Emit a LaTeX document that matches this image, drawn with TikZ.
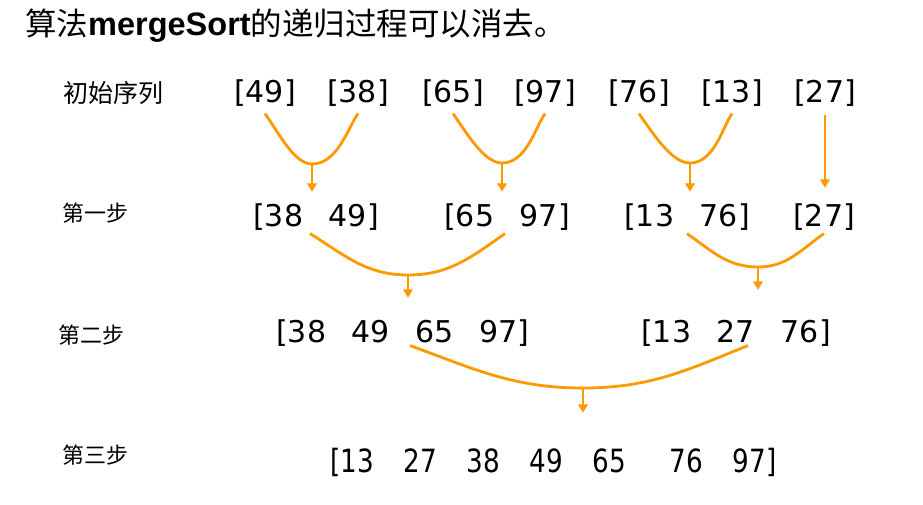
\documentclass[tikz,border=0pt]{standalone}
\usepackage{fontspec}
\usepackage{graphicx}
\setmainfont{DejaVu Sans}
\newfontfamily\cjk{Noto Sans CJK SC}
\newfontfamily\latinsans{Liberation Sans}
\usetikzlibrary{arrows.meta}

\definecolor{mergeorange}{RGB}{255,153,0}
\newcommand{\numgap}{\hspace{0.86em}}

\tikzset{
  seq/.style={inner sep=0pt,font=\fontsize{30}{30}\selectfont},
  steplabel/.style={inner sep=0pt,font=\cjk\fontsize{22}{22}\selectfont},
  merge/.style={draw=mergeorange,line width=2.8pt},
  vmerge/.style={out looseness=0.95,in looseness=0.65},
  flow/.style={draw=mergeorange,line width=2.5pt,
               -{Triangle[width=9.5pt,length=8.5pt]}}
}

\begin{document}
\begin{tikzpicture}[x=1pt,y=1pt]
  \useasboundingbox (0,0) rectangle (923,504);

  \node[anchor=west,inner sep=0pt,font=\cjk\fontsize{31.5}{31.5}\selectfont]
    (title) at (25,478)
    {算法{\latinsans\bfseries\fontsize{32.5}{32.5}\selectfont mergeSort}的递归过程可以消去。};

  % row labels
  \node[steplabel,font=\cjk\fontsize{25}{25}\selectfont] (init) at (113.5,411) {初始序列};
  \node[steplabel] (step1) at (95,291) {第一步};
  \node[steplabel] (step2) at (91,169) {第二步};
  \node[steplabel] (step3) at (95,49)  {第三步};

  % initial sequence
  \node[seq] (n11) at (265,411) {[49]};
  \node[seq] (n12) at (358,411) {[38]};
  \node[seq] (n13) at (453,411) {[65]};
  \node[seq] (n14) at (545,411) {[97]};
  \node[seq] (n15) at (639,411) {[76]};
  \node[seq] (n16) at (732,411) {[13]};
  \node[seq] (n17) at (825,411) {[27]};

  % first step
  \node[seq] (n21) at (316,287) {[38\numgap 49]};
  \node[seq] (n22) at (507,287) {[65\numgap 97]};
  \node[seq] (n23) at (687,287) {[13\numgap 76]};
  \node[seq] (n24) at (824,287) {[27]};

  % second step
  \node[seq] (n31) at (403,171) {[38\numgap 49\numgap 65\numgap 97]};
  \node[seq] (n32) at (736,171) {[13\numgap 27\numgap 76]};

  % third step
  \node[seq,font=\fontsize{32}{32}\selectfont] (n41) at (553.5,42)
    {\scalebox{0.82}[1]{[13\hspace{1.13em}27\hspace{1.13em}38\hspace{1.13em}49\hspace{1.13em}65\hspace{1.66em}76\hspace{1.13em}97]}};

  % merge points
  \coordinate (j11) at (312,340);
  \coordinate (j12) at (502,341);
  \coordinate (j13) at (690,341);
  \coordinate (j21) at (408,229);
  \coordinate (j22) at (758,237);
  \coordinate (j31) at (583,116);

  \draw[merge] ([yshift=-7pt]n11.south) to[out=-55,in=180,vmerge] (j11)
               to[out=0,in=-125,vmerge] ([yshift=-7pt]n12.south);
  \draw[merge] ([yshift=-7pt]n13.south) to[out=-55,in=180,vmerge] (j12)
               to[out=0,in=-125,vmerge] ([yshift=-7pt]n14.south);
  \draw[merge] ([yshift=-7pt]n15.south) to[out=-55,in=180,vmerge] (j13)
               to[out=0,in=-125,vmerge] ([yshift=-7pt]n16.south);
  \draw[flow,shorten >=11.6pt] (j11) -- (j11 |- n21.north);
  \draw[flow,shorten >=11.6pt] (j12) -- (j12 |- n22.north);
  \draw[flow,shorten >=11.6pt] (j13) -- (j13 |- n23.north);
  \draw[flow,shorten >=15.6pt] ([yshift=-8pt]n17.south) -- (n17 |- n24.north);

  \draw[merge] ([xshift=-6pt,yshift=-3pt]n21.south) to[out=-32,in=180] (j21)
               to[out=0,in=-145] ([xshift=-2pt,yshift=-3pt]n22.south);
  \draw[merge] ([yshift=-3pt]n23.south) to[out=-35,in=180] (j22)
               to[out=0,in=-145] ([yshift=-3pt]n24.south);
  \draw[flow,shorten >=21.6pt] (j21) -- (j21 |- n31.north);
  \draw[flow,shorten >=29.6pt] (j22) -- (j22 |- n32.north);

  \draw[merge] ([xshift=7pt,yshift=1pt]n31.south) to[out=-20,in=180] (j31)
               to[out=0,in=-158] ([xshift=12pt,yshift=1pt]n32.south);
  \draw[flow,shorten >=34.7pt] (j31) -- (j31 |- n41.north);
\end{tikzpicture}
\end{document}
